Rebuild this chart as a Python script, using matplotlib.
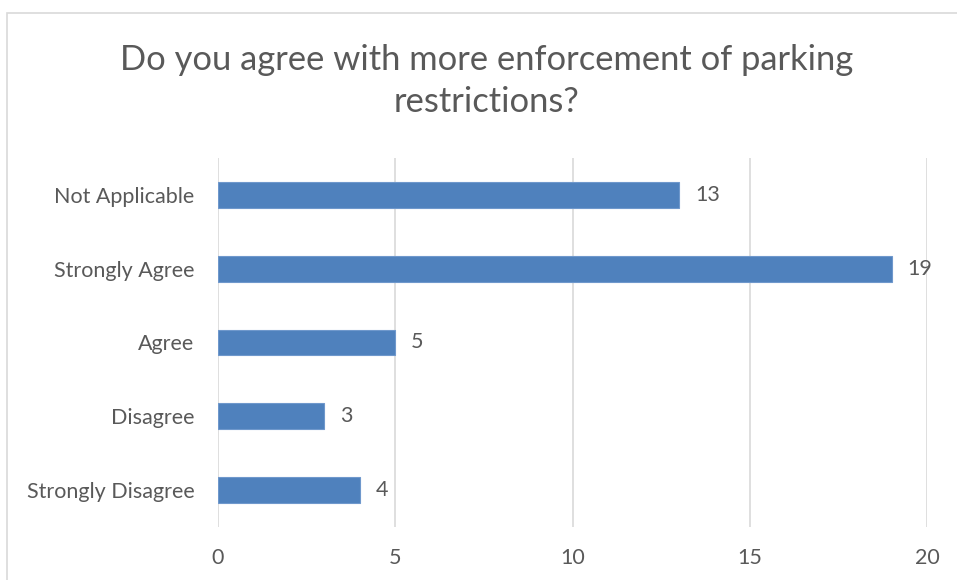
import matplotlib.pyplot as plt
from matplotlib.patches import Rectangle

plt.rcParams['font.family'] = ['Lato', 'DejaVu Sans']

categories = ['Strongly Disagree', 'Disagree', 'Agree', 'Strongly Agree', 'Not Applicable']
counts = [4, 3, 5, 19, 13]
xticks = [0, 5, 10, 15, 20]

txt = '#595959'
bar_color = '#4f81bd'

fig = plt.figure(figsize=(9.57, 5.8), dpi=100)
ax = fig.add_axes([0.2278, 0.0914, 0.7409, 0.6362])

# chart frame
fig.patches.append(Rectangle((0.0073, -0.05), 1.2, 0.9776 + 0.05, transform=fig.transFigure,
                             fill=False, edgecolor='#d9d9d9', linewidth=1.2))

pos = range(len(categories))
ax.barh(pos, counts, height=0.35, color=bar_color, edgecolor='#6f98cc', linewidth=0.8, zorder=2)
for y, v in zip(pos, counts):
    ax.text(v + 0.45, y, str(v), va='center', ha='left', fontsize=15.5, color=txt, zorder=3)

ax.set_xlim(0, 20)
ax.set_ylim(-0.5, len(categories) - 0.5)
ax.set_xticks(xticks)
ax.set_yticks(list(pos))
ax.set_yticklabels(categories)
ax.grid(axis='x', color='#d9d9d9', linewidth=1.2, zorder=0)
ax.set_axisbelow(True)
for s in ax.spines.values():
    s.set_visible(False)
ax.tick_params(axis='both', length=0, labelsize=15.5, labelcolor=txt)
ax.tick_params(axis='x', pad=15)
ax.tick_params(axis='y', pad=17)

fig.text(0.508, 0.86, 'Do you agree with more enforcement of parking\nrestrictions?',
         ha='center', va='center', fontsize=24.8, color=txt, linespacing=1.38)

fig.savefig('out.png', dpi=100)
